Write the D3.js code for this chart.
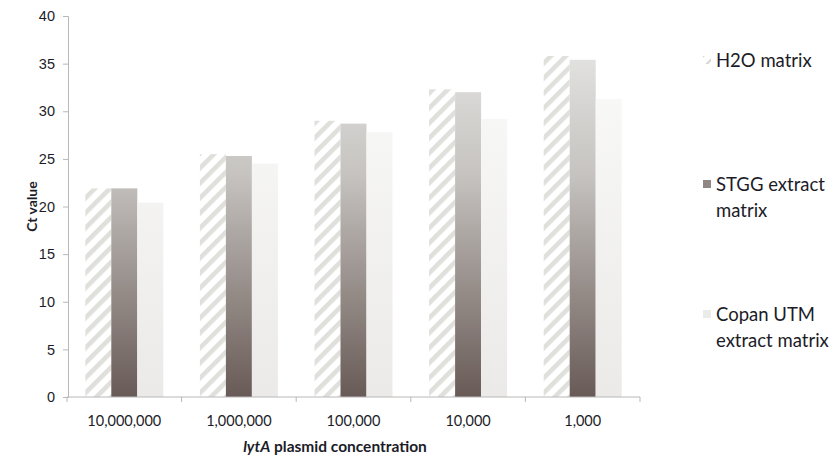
<!DOCTYPE html>
<html>
<head>
<meta charset="utf-8">
<script src="https://cdn.jsdelivr.net/npm/d3@7"></script>
<style>
  html, body { margin: 0; padding: 0; background: #fff; }
  svg { display: block; font-family: Lato, "Open Sans", sans-serif; }
</style>
</head>
<body>
<svg id="chart" width="838" height="462"></svg>
<script>
// Plasmid concentrations (copies) on the x axis
const categories = ["10,000,000", "1,000,000", "100,000", "10,000", "1,000"];
const seriesNames = ["H2O matrix", "STGG extract matrix", "Copan UTM extract matrix"];
// Ct values per matrix
const h2oValues   = [21.9, 25.5, 29.0, 32.3, 35.8];
const stggValues  = [21.9, 25.3, 28.7, 32.0, 35.4];
const copanValues = [20.4, 24.5, 27.8, 29.2, 31.3];
const yTicks = [0, 5, 10, 15, 20, 25, 30, 35, 40];

const series = [h2oValues, stggValues, copanValues];

const svg = d3.select("#chart");
const margin = { left: 68, right: 198, top: 16, bottom: 65 };
const W = 838, H = 462;

const x = d3.scaleBand().domain(categories).range([margin.left - 1, W - margin.right]).paddingInner(0).paddingOuter(0);
const xs = d3.scaleBand().domain(d3.range(3)).range([0, 78]);
const y = d3.scaleLinear().domain([0, 40]).range([H - margin.bottom, margin.top]);

const defs = svg.append("defs");
// diagonal hatch for the water matrix
const pat = defs.append("pattern").attr("id", "hatch").attr("patternUnits", "userSpaceOnUse")
  .attr("width", 10.6).attr("height", 10.6).attr("patternTransform", "rotate(45)");
pat.append("rect").attr("width", 10.6).attr("height", 10.6).attr("fill", "#ffffff");
pat.append("rect").attr("x", 0).attr("width", 4.6).attr("height", 10.6).attr("fill", "#dfdfdb");

const g1 = defs.append("linearGradient").attr("id", "stgg").attr("gradientUnits", "userSpaceOnUse")
  .attr("x1", 0).attr("x2", 0).attr("y1", y(36)).attr("y2", y(0));
g1.append("stop").attr("offset", "0%").attr("stop-color", "#e2e2e0");
g1.append("stop").attr("offset", "35%").attr("stop-color", "#c6c3c0");
g1.append("stop").attr("offset", "70%").attr("stop-color", "#948b87");
g1.append("stop").attr("offset", "100%").attr("stop-color", "#685a57");

const g2 = defs.append("linearGradient").attr("id", "copan").attr("gradientUnits", "userSpaceOnUse")
  .attr("x1", 0).attr("x2", 0).attr("y1", y(32)).attr("y2", y(0));
g2.append("stop").attr("offset", "0%").attr("stop-color", "#f8f8f7");
g2.append("stop").attr("offset", "100%").attr("stop-color", "#ebeae8");

const fills = ["url(#hatch)", "url(#stgg)", "url(#copan)"];
const legendFills = ["url(#hatchL)", "#8f8783", "#ebebea"];

// bars
const groups = svg.append("g").selectAll("g").data(categories).join("g")
  .attr("transform", c => `translate(${x(c) + (x.bandwidth() - 78) / 2},0)`);
groups.selectAll("rect").data((c, i) => series.map((s, k) => ({ k, v: s[i] }))).join("rect")
  .attr("x", d => xs(d.k))
  .attr("width", xs.bandwidth())
  .attr("y", d => y(d.v))
  .attr("height", d => y(0) - y(d.v))
  .attr("fill", d => fills[d.k]);

const axisColor = "#b8b8b8";
const textColor = "#1c1c28";

// y axis
const yAxis = svg.append("g").attr("transform", `translate(${margin.left},0)`)
  .call(d3.axisLeft(y).tickValues(yTicks).tickSize(5).tickPadding(8));
yAxis.select(".domain").attr("stroke", axisColor);
yAxis.selectAll(".tick line").attr("stroke", axisColor);
yAxis.selectAll("text").attr("fill", textColor).style("font-size", "14.5px");

// x axis with ticks at category boundaries
const xAxisG = svg.append("g").attr("transform", `translate(0,${y(0)})`);
xAxisG.append("line").attr("x1", x.range()[0]).attr("x2", x.range()[1]).attr("stroke", axisColor);
const bounds = categories.map(c => x(c)).concat([x.range()[1]]);
xAxisG.selectAll("line.tk").data(bounds).join("line").attr("class", "tk")
  .attr("x1", d => d).attr("x2", d => d).attr("y1", 0).attr("y2", 5).attr("stroke", axisColor);
xAxisG.selectAll("text").data(categories).join("text")
  .attr("x", c => x(c) + x.bandwidth() / 2).attr("y", 29)
  .attr("text-anchor", "middle").attr("fill", textColor).style("font-size", "14.5px")
  .text(c => c);

// axis titles
svg.append("text").attr("transform", `translate(37,${(y(0) + y(40)) / 2}) rotate(-90)`)
  .attr("text-anchor", "middle").attr("fill", textColor)
  .style("font-size", "14px").style("font-weight", "bold").text("Ct value");
const xt = svg.append("text").attr("x", 335).attr("y", 452)
  .attr("text-anchor", "middle").attr("fill", textColor)
  .style("font-size", "15.5px").style("font-weight", "bold");
xt.append("tspan").style("font-style", "italic").text("lytA");
xt.append("tspan").text(" plasmid concentration");

// legend
const hl = defs.append("pattern").attr("id", "hatchL").attr("patternUnits", "userSpaceOnUse")
  .attr("width", 8).attr("height", 8).attr("patternTransform", "rotate(45)");
hl.append("rect").attr("width", 8).attr("height", 8).attr("fill", "#ffffff");
hl.append("rect").attr("width", 2).attr("height", 8).attr("fill", "#d4d4d0");

const legendItems = [
  { lines: ["H2O matrix"], y: 67 },
  { lines: ["STGG extract"], y: 191 },
  { lines: ["Copan UTM"], y: 321 }
];
legendItems[1].lines.push("matrix");
legendItems[2].lines.push("extract matrix");
const lg = svg.append("g").selectAll("g").data(legendItems).join("g");
lg.append("rect").attr("x", 703).attr("y", d => d.y - 11).attr("width", 8).attr("height", 8)
  .attr("fill", (d, i) => legendFills[i]);
lg.append("text").attr("x", 716).attr("y", d => d.y).attr("fill", textColor)
  .style("font-size", "18.5px")
  .selectAll("tspan").data(d => d.lines).join("tspan")
  .attr("x", 716).attr("dy", (t, i) => i === 0 ? 0 : 26).text(t => t);
</script>
</body>
</html>
